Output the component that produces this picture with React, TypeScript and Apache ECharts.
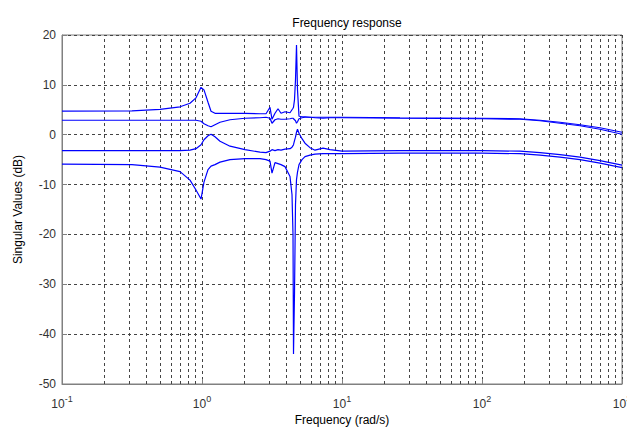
import React, { useEffect, useRef } from "react";
import * as echarts from "echarts";

// Frequency grid (rad/s) shared by all singular-value curves
const freq = [
  0.1, 0.316, 0.501, 0.697, 0.821, 0.906, 0.984, 1.033, 1.104, 1.16,
  1.238, 1.345, 1.585, 2.028, 2.596, 2.866, 3.06, 3.162, 3.322, 3.491,
  3.667, 3.916, 4.252, 4.394, 4.467, 4.504, 4.578, 4.654, 4.732, 4.81,
  4.931, 5.179, 5.441, 5.907, 6.414, 7.315, 8.208, 10, 25.96, 100,
  186.8, 259.6, 360.7, 501, 696.6, 1000,
];

// Singular values (dB)
const sv1 = [
  4.75, 4.8, 5.1, 5.6, 6.3, 7.4, 9.5, 9.0, 6.5, 4.7,
  4.3, 4.3, 4.3, 4.3, 4.2, 4.2, 5.5, 3.1, 4.3, 5.2,
  4.3, 4.6, 4.4, 5.0, 5.3, 5.5, 7, 11, 18, 9,
  3.7, 3.6, 3.6, 3.5, 3.5, 3.5, 3.5, 3.5, 3.4, 3.3,
  3.2, 2.9, 2.5, 2.0, 1.4, 0.5,
];
const sv2 = [
  2.9, 2.9, 2.9, 2.9, 2.9, 2.9, 2.7, 2.2, 1.8, 1.6,
  2.0, 2.5, 3.0, 3.3, 3.4, 3.5, 3.3, 2.3, 3.0, 3.2,
  3.1, 3.1, 3.2, 3.3, 3.3, 3.3, 3.0, 2.8, 2.3, 2.6,
  3.2, 3.4, 3.5, 3.5, 3.4, 3.3, 3.4, 3.4, 3.3, 3.2,
  3.1, 2.8, 2.3, 1.8, 1.1, 0.1,
];
const sv3 = [
  -3.2, -3.2, -3.2, -3.2, -3.1, -2.8, -2.0, -1.0, -0.2, 0.1,
  -0.4, -1.3, -2.3, -3.0, -3.5, -3.6, -3.3, -3.0, -3.2, -3.0,
  -3.1, -2.9, -2.8, -2.5, -2.2, -2.0, -1.2, -0.5, 0.5, 1.1,
  0.3, -0.8, -1.7, -2.6, -3.1, -2.7, -3.0, -3.3, -3.2, -3.2,
  -3.3, -3.6, -4.0, -4.5, -5.2, -6.1,
];
const sv4 = [
  -5.9, -6.0, -6.5, -7.4, -9.1, -11.1, -12.9, -9.5, -7.0, -6.3,
  -6.0, -5.5, -5.0, -4.8, -4.8, -5.0, -5.3, -7.7, -5.6, -5.8,
  -6.0, -6.4, -8.4, -12, -20, -44, -32, -14, -9, -7.5,
  -6, -5, -4.4, -4.1, -3.9, -3.8, -3.8, -3.8, -3.7, -3.7,
  -3.8, -4.1, -4.5, -5.0, -5.7, -6.6,
];

const decades = [0.1, 1, 10, 100];
const minorMultipliers = [2, 3, 4, 5, 6, 7, 8, 9];

const GRID_COLOR = "#444444";
const DASH = [3, 3];

export default function App() {
  const ref = useRef<HTMLDivElement>(null);

  useEffect(() => {
    if (!ref.current) return;
    const chart = echarts.init(ref.current, undefined, { renderer: "svg" });

    const minorGrid: number[] = [];
    decades.forEach((d) => minorMultipliers.forEach((m) => minorGrid.push(+(d * m).toPrecision(3))));

    const mk = (vals: number[]) => freq.map((f, i) => [f, vals[i]]);
    const lineSeries = (name: string, vals: number[], extra: any = {}) => ({
      name,
      type: "line",
      data: mk(vals),
      showSymbol: false,
      symbol: "none",
      lineStyle: { color: "#0000ff", width: 1.2 },
      z: 5,
      ...extra,
    });

    const expMap: Record<number, string> = { 0.1: "-1", 1: "0", 10: "1", 100: "2", 1000: "3" };

    chart.setOption({
      animation: false,
      backgroundColor: "#ffffff",
      title: {
        text: "Frequency response",
        left: 342,
        top: 12,
        textAlign: "center",
        textStyle: { fontFamily: "Arial", fontSize: 12, fontWeight: "normal", color: "#000" },
      },
      grid: {
        left: 62,
        right: 5,
        top: 35,
        bottom: 44,
        show: true,
        borderColor: "#808080",
        borderWidth: 1,
        outerBoundsMode: "none",
        containLabel: false,
      },
      xAxis: {
        type: "log",
        logBase: 10,
        min: 0.1,
        max: 1000,
        name: "Frequency (rad/s)",
        nameLocation: "middle",
        nameGap: 26,
        nameTextStyle: { fontFamily: "Arial", fontSize: 12, color: "#000" },
        axisLine: { show: true, onZero: false, lineStyle: { color: "#808080" } },
        axisTick: { show: true, inside: true, length: 5, lineStyle: { color: "#808080" } },
        axisLabel: {
          margin: 10,
          fontFamily: "Arial",
          color: "#333",
          formatter: (v: number) => {
            const key = Object.keys(expMap).find((k) => Math.abs(+k - v) / v < 1e-6);
            return key ? `{b|10}{e|${expMap[+key]}}` : "";
          },
          rich: {
            b: { fontFamily: "Arial", fontSize: 12, color: "#333" },
            e: { fontFamily: "Arial", fontSize: 9, color: "#333", padding: [0, 0, 10, 0] },
          },
        },
        splitLine: { show: true, lineStyle: { color: GRID_COLOR, type: DASH, width: 1 } },
      },
      yAxis: {
        type: "value",
        min: -50,
        max: 20,
        interval: 10,
        name: "Singular Values (dB)",
        nameLocation: "middle",
        nameGap: 38,
        nameTextStyle: { fontFamily: "Arial", fontSize: 12, color: "#000" },
        axisLine: { show: true, onZero: false, lineStyle: { color: "#808080" } },
        axisTick: { show: true, inside: true, length: 5, lineStyle: { color: "#808080" } },
        axisLabel: { margin: 6, fontFamily: "Arial", fontSize: 12, color: "#333" },
        splitLine: { show: true, lineStyle: { color: GRID_COLOR, type: DASH, width: 1 } },
      },
      series: [
        lineSeries("sv1", sv1, {
          markLine: {
            silent: true,
            symbol: ["none", "none"],
            label: { show: false },
            lineStyle: { color: GRID_COLOR, type: DASH, width: 1 },
            z: 1,
            data: minorGrid.map((f) => ({ xAxis: f })),
          },
        }),
        lineSeries("sv2", sv2),
        lineSeries("sv3", sv3),
        lineSeries("sv4", sv4),
      ],
    });

    return () => chart.dispose();
  }, []);

  return (
    <div
      ref={ref}
      style={{ position: "fixed", left: 0, top: 0, width: 627, height: 428 }}
    />
  );
}
